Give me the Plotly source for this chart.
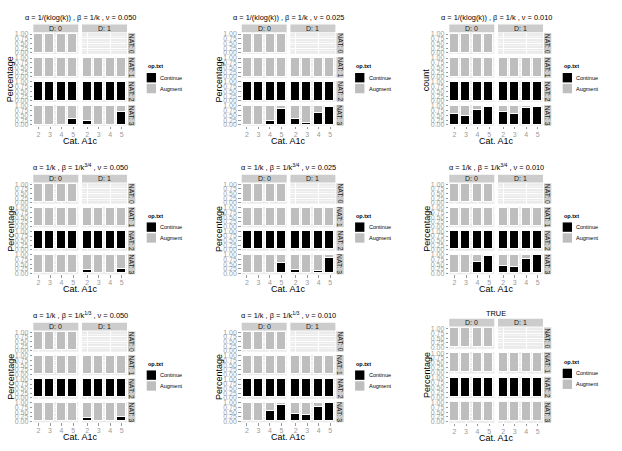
import plotly.graph_objects as go

W, H = 622, 451
FONT = 'Liberation Sans, Arial, sans-serif'

categories = ['2', '3', '4', '5']
d_labels = ['D: 0', 'D: 1']
nat_labels = ['NAT: 0', 'NAT: 1', 'NAT: 2', 'NAT: 3']
series_names = ['Continue', 'Augment']
series_colors = ['#000000', '#BEBEBE']

panel_titles = [
    'α = 1/(klog(k)) , β = 1/k , ν = 0.050',
    'α = 1/(klog(k)) , β = 1/k , ν = 0.025',
    'α = 1/(klog(k)) , β = 1/k , ν = 0.010',
    'α = 1/k , β = 1/k<sup>3/4</sup> , ν = 0.050',
    'α = 1/k , β = 1/k<sup>3/4</sup> , ν = 0.025',
    'α = 1/k , β = 1/k<sup>3/4</sup> , ν = 0.010',
    'α = 1/k , β = 1/k<sup>1/3</sup> , ν = 0.050',
    'α = 1/k , β = 1/k<sup>1/3</sup> , ν = 0.010',
    'TRUE',
]
y_titles = ['Percentage', 'Percentage', 'count',
            'Percentage', 'Percentage', 'Percentage',
            'Percentage', 'Percentage', 'Percentage']

# share of "Continue" for each Cat. A1c level (2, 3, 4, 5)
nat0_continue_d0 = [0, 0, 0, 0]
nat0_continue_d1 = None  # empty facet
nat1_continue = [0, 0, 0, 0]
nat2_continue = [1, 1, 1, 1]
nat3_continue_d0 = [
    [0, 0, 0, 0.30],
    [0, 0, 0.18, 0.85],
    [0.56, 0.49, 0.79, 0.96],
    [0, 0, 0, 0],
    [0, 0, 0, 0.58],
    [0, 0, 0.60, 0.93],
    [0, 0, 0, 0.03],
    [0, 0, 0.56, 0.91],
    [0, 0, 0, 0],
]
nat3_continue_d1 = [
    [0.22, 0, 0, 0.68],
    [0.30, 0.08, 0.60, 0.95],
    [0.70, 0.58, 0.88, 0.97],
    [0.17, 0, 0, 0.25],
    [0.18, 0, 0.14, 0.85],
    [0.39, 0.33, 0.79, 0.98],
    [0.17, 0, 0, 0.26],
    [0.42, 0.33, 0.77, 0.98],
    [0, 0, 0, 0],
]

# layout in pixels
panel_x0 = [33.3, 241.7, 449.3]
# title y, strip top, facet top, facet bottom
panel_rows = [
    (15, 21.7, 30.5, 124.4), (15, 21.7, 30.5, 124.4), (15, 21.7, 30.5, 124.4),
    (166, 174, 182.8, 275), (166, 174, 182.8, 275), (166, 174, 182.8, 275),
    (316, 324, 332.8, 425), (316, 324, 332.8, 425), (315, 320, 328.8, 425.5),
]
FACET_W = 45
COL_GAP = 3.7
ROW_GAP = 3.3


def px(v):
    return v / W


def py(v):
    return 1 - v / H


def facet_values(p, nat, d):
    if nat == 0:
        return nat0_continue_d0 if d == 0 else nat0_continue_d1
    if nat == 1:
        return nat1_continue
    if nat == 2:
        return nat2_continue
    return nat3_continue_d0[p] if d == 0 else nat3_continue_d1[p]


fig = go.Figure()
layout = {}
shapes = []
annotations = []


def text(x, y, s, size, color='#000000', angle=0, xanchor='center', bold=False):
    annotations.append(dict(
        x=px(x), y=py(y), xref='paper', yref='paper', text=f'<b>{s}</b>' if bold else s,
        showarrow=False, xanchor=xanchor, yanchor='middle', textangle=angle,
        font=dict(family=FONT, size=size, color=color), borderpad=0,
    ))


def rect(x0, y0, x1, y1, color):
    shapes.append(dict(type='rect', xref='paper', yref='paper',
                       x0=px(x0), x1=px(x1), y0=py(y1), y1=py(y0),
                       fillcolor=color, line=dict(width=0), layer='below'))


n = 0
for p in range(9):
    x0 = panel_x0[p % 3]
    title_y, strip_top, top, bottom = panel_rows[p]
    h = (bottom - top - 3 * ROW_GAP) / 4
    center_x = x0 + FACET_W + COL_GAP / 2
    center_y = (top + bottom) / 2

    text(center_x, title_y, panel_titles[p], 7.4)
    text(x0 - 22.5, center_y, y_titles[p], 9, angle=-90)
    text(center_x, bottom + 15, 'Cat. A1c', 9)

    for d in range(2):
        xl = x0 + d * (FACET_W + COL_GAP)
        rect(xl, strip_top, xl + FACET_W, top - 0.9, '#CCCCCC')
        text(xl + FACET_W / 2, (strip_top + top - 0.9) / 2, d_labels[d], 7, '#1A1A1A')

    for nat in range(4):
        yt = top + nat * (h + ROW_GAP)
        yb = yt + h
        sx = x0 + 2 * FACET_W + COL_GAP + 1
        rect(sx, yt, sx + 7.3, yb, '#CCCCCC')
        text(sx + 3.7, (yt + yb) / 2, nat_labels[nat], 6.8, '#1A1A1A', angle=90)

        for d in range(2):
            n += 1
            xl = x0 + d * (FACET_W + COL_GAP)
            suffix = '' if n == 1 else str(n)
            xa, ya = 'x' + suffix, 'y' + suffix
            cont = facet_values(p, nat, d)
            if cont is None:
                fig.add_trace(go.Scatter(x=categories, y=[None] * 4, mode='markers',
                                         xaxis=xa, yaxis=ya, showlegend=False,
                                         hoverinfo='skip'))
            else:
                aug = [1 - v for v in cont]
                for name, vals, color in zip(series_names, [cont, aug], series_colors):
                    fig.add_trace(go.Bar(
                        x=categories, y=vals, name=name, xaxis=xa, yaxis=ya,
                        width=0.8, showlegend=False,
                        marker=dict(color=color, line=dict(color='white', width=1)),
                    ))
            bottom_row = nat == 3
            left_col = d == 0
            layout['xaxis' + suffix] = dict(
                domain=[px(xl), px(xl + FACET_W)], anchor=ya,
                type='category', categoryorder='array', categoryarray=categories,
                range=[-0.45, 3.45], showgrid=True, gridcolor='white', gridwidth=1,
                zeroline=False, showline=False, fixedrange=True,
                showticklabels=bottom_row, ticks='outside' if bottom_row else '',
                ticklen=2.5, tickwidth=0.8, tickcolor='#999999',
                tickfont=dict(family=FONT, size=7, color='#9A9A9A'),
            )
            layout['yaxis' + suffix] = dict(
                domain=[py(yb), py(yt)], anchor=xa,
                range=[-0.05, 1.05], tickvals=[0, 0.25, 0.5, 0.75, 1],
                ticktext=['0.00', '0.25', '0.50', '0.75', '1.00'],
                showgrid=True, gridcolor='white', gridwidth=1,
                minor=dict(tickvals=[0.125, 0.375, 0.625, 0.875], showgrid=True,
                           gridcolor='#F5F5F5', gridwidth=0.5),
                zeroline=False, showline=False, fixedrange=True,
                showticklabels=left_col, ticks='outside' if left_col else '',
                ticklen=2.5, tickwidth=0.8, tickcolor='#999999',
                tickfont=dict(family=FONT, size=7, color='#A0A0A0'),
            )

    # legend drawn per panel
    lx = x0 + 113.4
    text(lx, center_y - 13.5, 'op.txt', 5.5, xanchor='left', bold=True)
    for k, (name, color) in enumerate(zip(series_names, series_colors)):
        by = center_y - 6.5 + k * 11
        rect(lx, by, lx + 9.3, by + 9.5, color)
        text(lx + 12.5, by + 4.75, name, 5.5, xanchor='left')

fig.update_layout(
    width=W, height=H, margin=dict(l=0, r=0, t=0, b=0),
    paper_bgcolor='white', plot_bgcolor='#EBEBEB',
    barmode='stack', bargap=0, showlegend=False,
    shapes=shapes, annotations=annotations,
    font=dict(family=FONT),
    **layout,
)

# pull the x tick labels a little closer to the facets, as in ggplot
try:
    fig.update_xaxes(ticklabelstandoff=-1)
except ValueError:
    pass

# the page body has a default 8px margin; remove it so the figure sits at 0,0
fig.write_html('out.html', config={'displayModeBar': False},
               post_script="document.body.style.margin='0';")
